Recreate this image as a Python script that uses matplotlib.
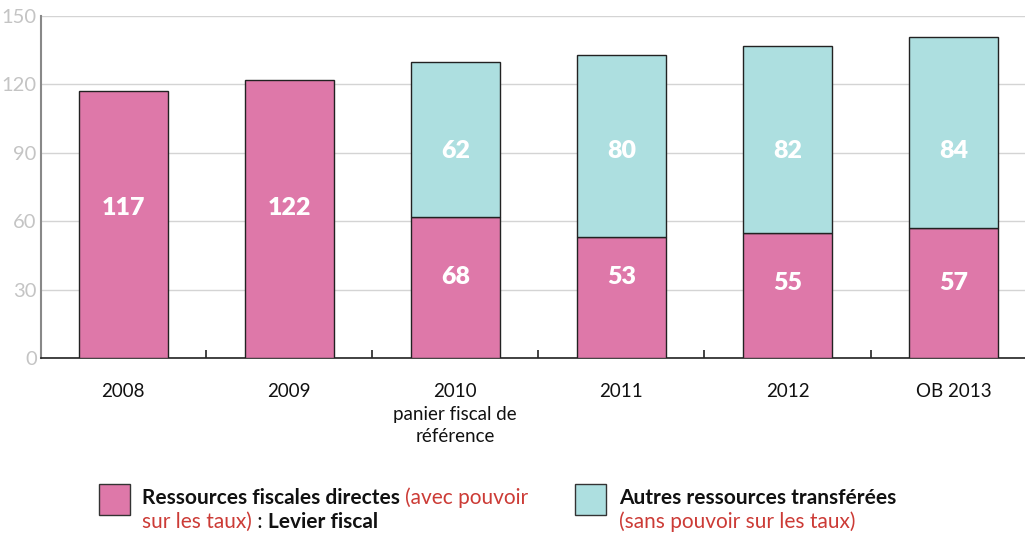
import matplotlib
matplotlib.use("Agg")
import matplotlib.pyplot as plt
from matplotlib.patches import Rectangle

# ---- data ----
categories = ["2008", "2009", "2010\npanier fiscal de\nréférence", "2011", "2012", "OB 2013"]
direct = [117, 122, 62, 53, 55, 57]          # drawn heights (pink)
transferred = [0, 0, 68, 80, 82, 84]         # drawn heights (teal)
direct_labels = ["117", "122", "68", "53", "55", "57"]
transferred_labels = ["", "", "62", "80", "82", "84"]
yticks = [0, 30, 60, 90, 120, 150]

# ---- layout / style ----
PINK = "#de78a9"
TEAL = "#addfe0"
RED = "#cc3b36"
FONT = "Lato"
direct_label_y = [66, 66, 35.5, 35.5, 33, 33]
transferred_label_y = [91, 91, 91, 91, 91, 91]

plt.rcParams["font.family"] = [FONT, "DejaVu Sans"]
fig = plt.figure(figsize=(10.25, 5.34), dpi=100)
ax = fig.add_axes([0.04, 0.3296, 0.96, 0.6404])

x = list(range(len(categories)))
w = 0.536
ax.bar(x, direct, width=w, color=PINK, edgecolor="#222222", linewidth=1, zorder=3)
tb = ax.bar(x, transferred, width=w, bottom=direct, color=TEAL, edgecolor="#222222",
            linewidth=1, zorder=3)
for i, t in enumerate(transferred):
    if t == 0:
        tb.patches[i].set_visible(False)

for i in x:
    ax.text(i, direct_label_y[i], direct_labels[i], ha="center", va="center",
            color="white", fontsize=18, fontweight="heavy", zorder=4)
    if transferred_labels[i]:
        ax.text(i, transferred_label_y[i], transferred_labels[i], ha="center",
                va="center", color="white", fontsize=18, fontweight="heavy", zorder=4)

ax.set_xlim(-0.494, 5.43)
ax.set_ylim(0, 150)
ax.set_yticks(yticks)
ax.set_yticklabels([str(v) for v in yticks], color="#c4c4c4", fontsize=14.5)
ax.tick_params(axis="y", length=0, pad=3)
ax.grid(axis="y", color="#d4d4d4", linewidth=1, zorder=0)
ax.set_axisbelow(True)

ax.set_xticks(x)
ax.set_xticklabels(categories, fontsize=13.5, color="#111111", linespacing=1.4, va="top")
ax.tick_params(axis="x", length=0, pad=18)
ax.set_xticks([i + 0.5 for i in x[:-1]] + [-0.494], minor=True)
ax.tick_params(axis="x", which="minor", direction="in", length=6, width=1.2, color="#222222")

for s in ["top", "right"]:
    ax.spines[s].set_visible(False)
ax.spines["left"].set_color("#888888")
ax.spines["left"].set_linewidth(1.5)
ax.spines["bottom"].set_color("#222222")
ax.spines["bottom"].set_linewidth(1.2)

# ---- legend ----
W, H = 1025, 534
def fx(px): return px / W
def fy(py): return 1 - py / H

fig.patches.append(Rectangle((fx(99), fy(515)), fx(31), 31 / H, transform=fig.transFigure,
                             facecolor=PINK, edgecolor="#333333", linewidth=1))
fig.patches.append(Rectangle((fx(575), fy(515)), fx(31), 31 / H, transform=fig.transFigure,
                             facecolor=TEAL, edgecolor="#333333", linewidth=1))

FS = 15

def line(pieces, x0, y0):
    t = fig.text(x0, y0, pieces[0][0], color=pieces[0][1], fontweight=pieces[0][2],
                 fontsize=FS, ha="left", va="baseline")
    for txt, color, weight in pieces[1:]:
        t = ax.annotate(txt, xy=(1, 0), xycoords=t, xytext=(0, 0), textcoords="offset points",
                        color=color, fontweight=weight, fontsize=FS, ha="left", va="bottom",
                        annotation_clip=False)
    return t

line([("Ressources fiscales directes ", "#111111", "bold"),
      ("(avec pouvoir", RED, "normal")], fx(142), fy(504))
line([("sur les taux)", RED, "normal"), (" : ", "#111111", "normal"),
      ("Levier fiscal", "#111111", "bold")], fx(142), fy(528))
line([("Autres ressources transférées", "#111111", "bold")], fx(619), fy(504))
line([("(sans pouvoir sur les taux)", RED, "normal")], fx(619), fy(528))

fig.savefig("out.png", dpi=100)
